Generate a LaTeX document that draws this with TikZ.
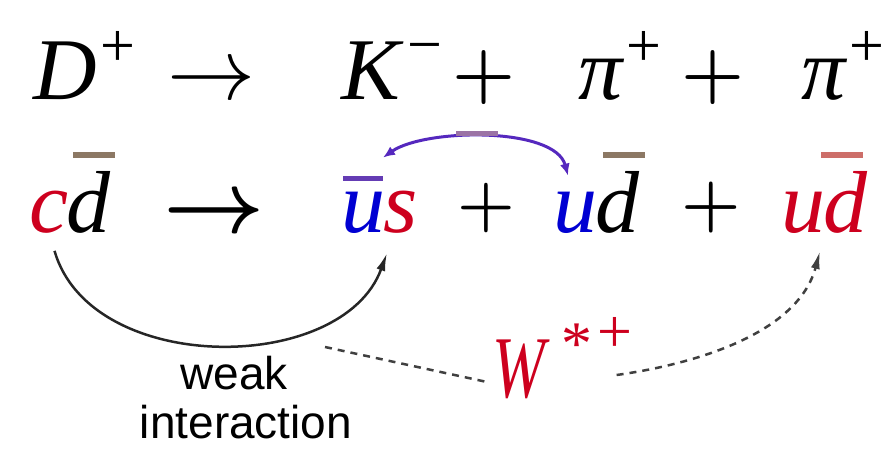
\RequirePackage{fix-cm}
\documentclass[tikz,border=0pt]{standalone}
\usepackage[no-math]{fontspec}
\setmainfont{Liberation Serif}
\newfontfamily\labelfont{Liberation Sans}
\usetikzlibrary{arrows.meta}

\definecolor{qred}{RGB}{205,0,30}
\definecolor{qblue}{RGB}{0,0,210}
\definecolor{ubarcol}{RGB}{100,60,180}
\definecolor{arccol}{RGB}{85,40,190}
\definecolor{midbarcol}{RGB}{155,115,165}
\definecolor{dbarcol}{RGB}{140,120,100}
\definecolor{rbarcol}{RGB}{205,110,105}

\newcommand{\upsc}[2][33pt]{\raisebox{#1}{\fontsize{62}{62}\selectfont #2}}

\begin{document}
\begin{tikzpicture}[
        x=1pt, y=1pt,
        every node/.style={inner sep=0pt, outer sep=0pt, anchor=base west},
        sym/.style={font=\fontsize{88}{90}\selectfont\itshape},
        arr/.style={font=\fontsize{88}{90}\selectfont},
        op/.style={font=\fontsize{72}{74}\selectfont\boldmath},
        lbl/.style={font=\labelfont\fontsize{46}{48}\selectfont, anchor=base},
        bar/.style={line width=6pt, dbarcol},
        weak/.style={-{Latex[length=18pt,width=9pt]}, line width=2.5pt, black!85},
        wdash/.style={line width=2.5pt, black!75, dash pattern=on 7pt off 6pt},
        qqarc/.style={{Latex[length=12pt,width=10pt]}-{Latex[length=12pt,width=10pt]}, line width=3pt, arccol}
    ]
    \useasboundingbox (0,0) rectangle (891,-449);

    % decay line
    \node[sym] (Dp) at (33,-100) {D\upsc{+}};
    \node[arr] (arr1) at (167,-100) {$\rightarrow$};
    \node[sym] (Km) at (341,-100) {K\hspace{4pt}\upsc[34pt]{−}};
    \node[op] (plus1) at (452,-96) {$+$};
    \node[sym] (pi1) at (578,-100) {π\upsc{+}};
    \node[op] (plus2) at (681,-96) {$+$};
    \node[sym] (pi2) at (801,-100) {π\upsc{+}};

    % quark line
    \node[sym, text=qred] (c1) at (29,-232) {c};
    \node[sym] (d1) at (66,-232) {d};
    \node[arr, font=\fontsize{88}{90}\selectfont\boldmath] (arr2) at (163,-232) {$\rightarrow$};
    \node[sym, text=qblue] (u1) at (341,-232) {u};
    \node[sym, text=qred] (s1) at (383,-232) {s};
    \node[op, font=\fontsize{66}{68}\selectfont\boldmath] (plus3) at (457,-224) {$+$};
    \node[sym, text=qblue] (u2) at (553,-232) {u};
    \node[sym] (d2) at (595,-232) {d};
    \node[op, font=\fontsize{68}{70}\selectfont\boldmath] (plus4) at (681,-224) {$+$};
    \node[sym, text=qred] (u3) at (781,-232) {u};
    \node[sym, text=qred] (d3) at (823,-232) {d};

    % antiquark bars
    \draw[bar] ([xshift=7pt,yshift=16pt]d1.north west) -- ([xshift=5pt,yshift=16pt]d1.north east);
    \draw[bar] ([xshift=8pt,yshift=16pt]d2.north west) -- ([xshift=6pt,yshift=16pt]d2.north east);
    \draw[bar, rbarcol] ([xshift=-2pt,yshift=16pt]d3.north west) -- ([xshift=-4pt,yshift=16pt]d3.north east);
    \draw[line width=5pt, ubarcol] ([xshift=2pt,yshift=13pt]u1.north west) -- ([xshift=-2pt,yshift=13pt]u1.north east);

    % u ubar pair
    \draw[qqarc] ([xshift=-2pt,yshift=34pt]u1.north east) to[out=35,in=105,looseness=0.7] ([xshift=-7pt,yshift=16pt]u2.north);
    \draw[line width=5pt, midbarcol] (456,-134) -- (498,-134);

    % W boson
    \node[sym, text=qred] (W) at (492,-397) {\scalebox{0.72}[1]{W}\hspace{14pt}\upsc[33pt]{*}\hspace{4pt}\upsc[45pt]{+}};
    \coordinate (vtx) at (325,-347);

    \draw[weak] ([xshift=6pt,yshift=-18pt]c1.south) to[out=-74,in=-110] ([xshift=2pt,yshift=-20pt]u1.south east);
    \draw[wdash] (vtx) -- ([xshift=-5pt,yshift=15pt]W.base west);
    \draw[wdash, -{Latex[length=18pt,width=9pt]}] ([xshift=-19pt,yshift=22pt]W.base east) to[out=8,in=-105,looseness=0.9] ([xshift=-5pt,yshift=-18pt]u3.south east);

    \node[lbl] (weaklbl) at (234,-389) {weak};
    \node[lbl] (interlbl) at (246,-438) {interaction};
\end{tikzpicture}
\end{document}
